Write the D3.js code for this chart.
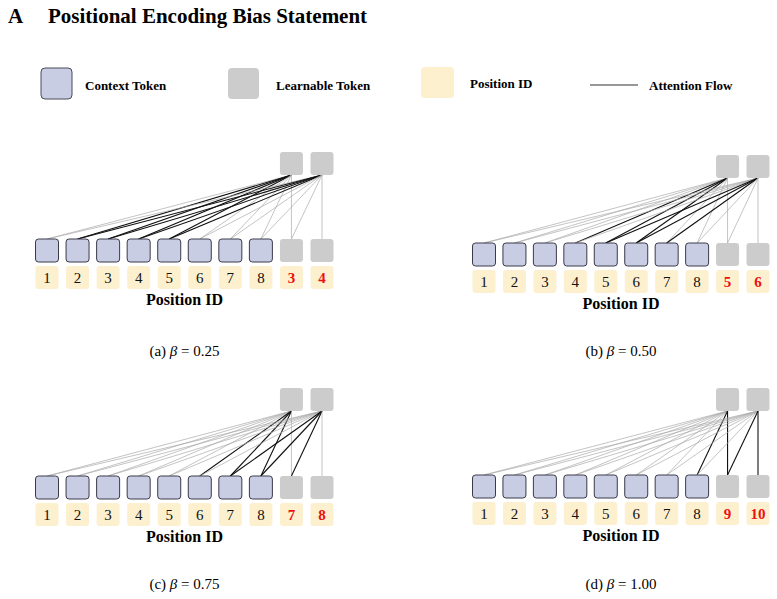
<!DOCTYPE html>
<html><head><meta charset="utf-8">
<script src="https://cdn.jsdelivr.net/npm/d3@7"></script>
<style>body{margin:0;background:#fff}</style></head>
<body><svg id="c" width="777" height="599"></svg>
<script>
const contextIds = [1,2,3,4,5,6,7,8];
const learnIds = [[3,4],[5,6],[7,8],[9,10]];
const captions = ["(a)","(b)","(c)","(d)"];
const betas = ["0.25","0.50","0.75","1.00"];
// dark attention targets (1-based bottom token index) for each top token
const darkLinks = [
  [[2,3,4,5],[2,3,4,5]],
  [[4,5,6],[5,6,7]],
  [[6,7,8],[7,8,9]],
  [[8,9],[9,10]]
];
const legendItems = ["Context Token","Learnable Token","Position ID","Attention Flow"];

const svg = d3.select("#c");
const serif = "'Liberation Serif','Times New Roman',serif";
svg.append("text").attr("x",8).attr("y",23).attr("font-family",serif).attr("font-weight","bold")
  .attr("font-size",21).text("A");
svg.append("text").attr("x",48).attr("y",23).attr("font-family",serif).attr("font-weight","bold")
  .attr("font-size",21).text("Positional Encoding Bias Statement");

// legend
const lg = svg.append("g").attr("font-family",serif).attr("font-weight","bold").attr("font-size",13);
lg.append("rect").attr("x",41).attr("y",68).attr("width",31).attr("height",31).attr("rx",4)
  .attr("fill","#c8cde3").attr("stroke","#4a4a5a").attr("stroke-width",1);
lg.append("text").attr("x",85).attr("y",90).text(legendItems[0]);
lg.append("rect").attr("x",228).attr("y",68).attr("width",31).attr("height",31).attr("rx",4).attr("fill","#cccccc");
lg.append("text").attr("x",276).attr("y",90).text(legendItems[1]);
lg.append("rect").attr("x",421).attr("y",67).attr("width",33).attr("height",31).attr("rx",4).attr("fill","#fdf0cf");
lg.append("text").attr("x",470).attr("y",88).text(legendItems[2]);
lg.append("line").attr("x1",590).attr("x2",638).attr("y1",85).attr("y2",85).attr("stroke","#333").attr("stroke-width",1.2);
lg.append("text").attr("x",649).attr("y",90).text(legendItems[3]);

const panels = [
  {x0:47,x1:322,by:239,ty:152,cy:356},
  {x0:484,x1:758,by:243,ty:155,cy:356},
  {x0:47,x1:322,by:476,ty:388,cy:589},
  {x0:484,x1:758,by:475,ty:388,cy:589}
];
const S = 23;
panels.forEach((p,pi)=>{
  const g = svg.append("g");
  const bottom = contextIds.map((d,i)=>({idx:i+1,id:d,type:"c"}))
    .concat(learnIds[pi].map((d,i)=>({idx:9+i,id:d,type:"l"})));
  const x = d3.scalePoint().domain(d3.range(1,11)).range([p.x0,p.x1]);
  // lines
  learnIds[pi].forEach((lid,ti)=>{
    const tx = x(9+ti);
    const targets = d3.range(1, 10+ti);
    targets.forEach(b=>{
      const dark = darkLinks[pi][ti].includes(b);
      g.append("line").attr("x1",tx).attr("y1",p.ty+S).attr("x2",x(b)).attr("y2",p.by)
        .attr("stroke",dark?"#111":"#aaa").attr("stroke-width",dark?1.1:0.7);
    });
  });
  // top tokens
  learnIds[pi].forEach((lid,ti)=>{
    g.append("rect").attr("x",x(9+ti)-S/2).attr("y",p.ty).attr("width",S).attr("height",S).attr("rx",3).attr("fill","#cccccc");
  });
  // bottom tokens
  bottom.forEach(b=>{
    const r = g.append("rect").attr("x",x(b.idx)-S/2).attr("y",p.by).attr("width",S).attr("height",S).attr("rx",3);
    if(b.type==="c") r.attr("fill","#c8cde3").attr("stroke","#3a3a4a").attr("stroke-width",1);
    else r.attr("fill","#cccccc");
    g.append("rect").attr("x",x(b.idx)-S/2).attr("y",p.by+27).attr("width",S).attr("height",S).attr("rx",3).attr("fill","#fdf0cf");
    g.append("text").attr("x",x(b.idx)).attr("y",p.by+27+17).attr("text-anchor","middle")
      .attr("font-family",serif).attr("font-size",15)
      .attr("font-weight",b.type==="l"?"bold":"normal").attr("fill",b.type==="l"?"#ee1111":"#111").text(b.id);
  });
  g.append("text").attr("x",(p.x0+p.x1)/2).attr("y",p.by+66).attr("text-anchor","middle")
    .attr("font-family",serif).attr("font-weight","bold").attr("font-size",16).text("Position ID");
  const cap = g.append("text").attr("x",(p.x0+p.x1)/2).attr("y",p.cy).attr("text-anchor","middle")
    .attr("font-family",serif).attr("font-size",15);
  cap.append("tspan").text(captions[pi]+" ");
  cap.append("tspan").attr("font-style","italic").text("β");
  cap.append("tspan").text(" = "+betas[pi]);
});
</script></body></html>
